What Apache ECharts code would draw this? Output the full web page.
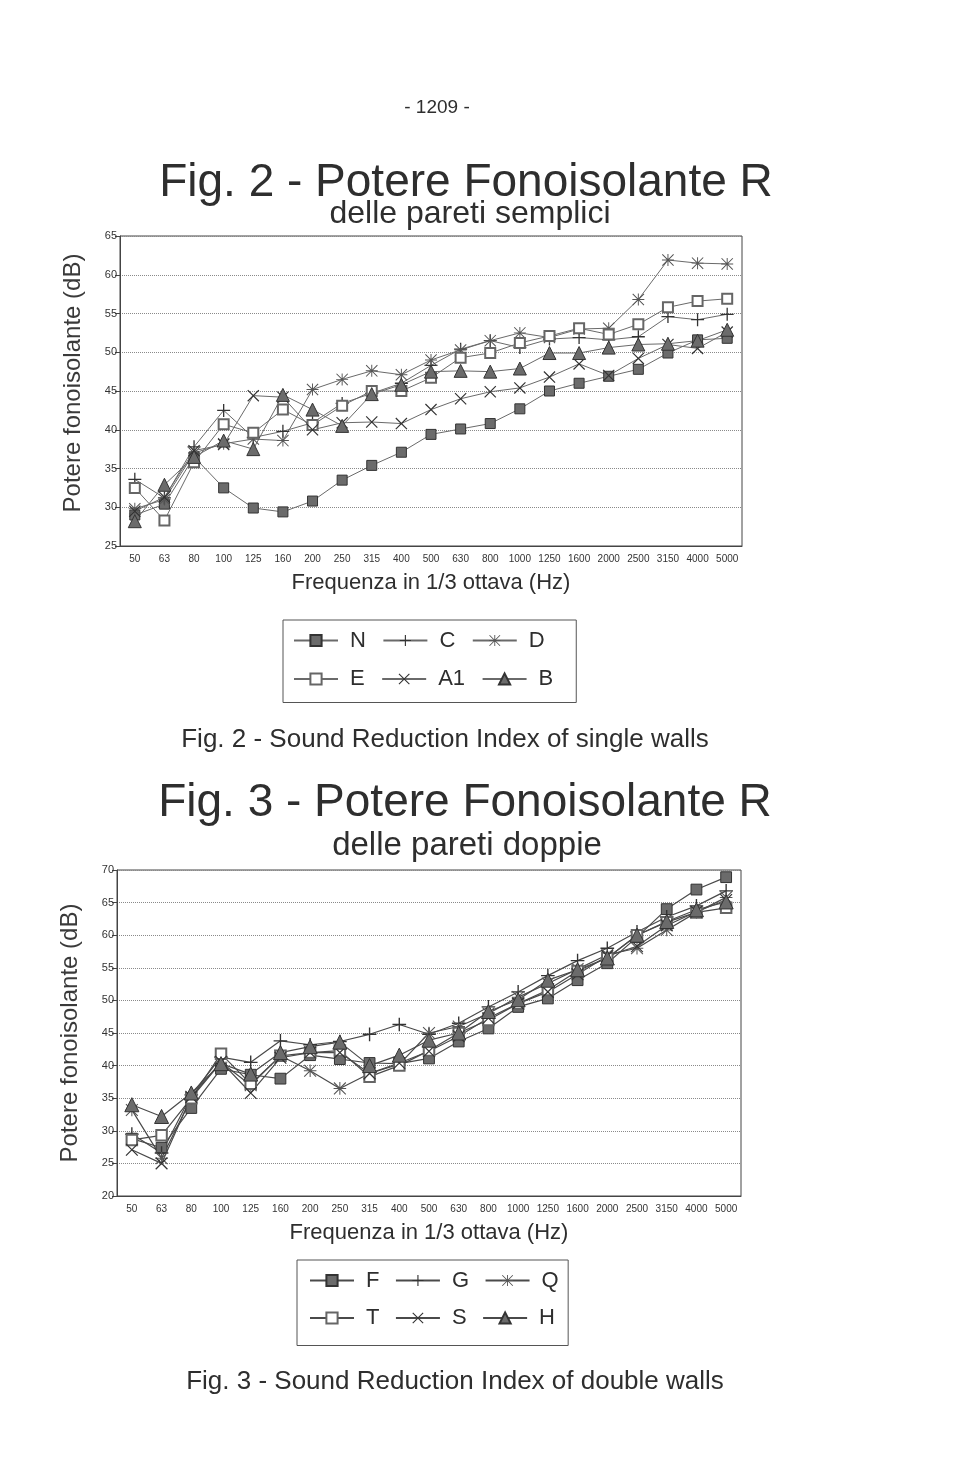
<!DOCTYPE html>
<html>
<head>
<meta charset="utf-8">
<script src="https://cdn.jsdelivr.net/npm/echarts@6/dist/echarts.min.js"></script>
<style>
html,body{margin:0;padding:0;background:#fff;}
#c{width:960px;height:1480px;}
</style>
</head>
<body>
<div id="c"></div>
<script>
// ---- data ----
const freqLabels = ['50','63','80','100','125','160','200','250','315','400','500','630','800','1000','1250','1600','2000','2500','3150','4000','5000'];

// Fig. 2 - single walls
const sN  = [29.0, 30.4, 36.5, 32.5, 29.9, 29.4, 30.8, 33.5, 35.4, 37.1, 39.4, 40.1, 40.8, 42.7, 45.0, 46.0, 46.9, 47.8, 49.9, 51.6, 51.8];
const sC  = [33.6, 31.2, 37.8, 42.5, 39.0, 39.8, 40.9, 43.4, 44.7, 46.0, 48.3, 50.4, 51.5, 50.6, 51.7, 51.9, 51.6, 52.0, 54.6, 54.2, 54.9];
const sD  = [29.8, 31.0, 37.0, 38.2, 38.8, 38.6, 45.2, 46.5, 47.6, 47.1, 49.0, 50.3, 51.5, 52.5, 51.9, 53.0, 53.1, 56.8, 61.9, 61.5, 61.4];
const sE  = [32.5, 28.3, 35.8, 40.7, 39.6, 42.6, 40.6, 43.1, 45.0, 45.0, 46.7, 49.3, 49.9, 51.2, 52.1, 53.1, 52.3, 53.6, 55.8, 56.6, 56.9];
const sA1 = [29.5, 31.3, 37.3, 38.1, 44.4, 44.2, 40.0, 40.9, 41.0, 40.8, 42.6, 44.0, 44.9, 45.4, 46.8, 48.5, 47.0, 49.2, 51.0, 50.5, 52.6];
const sB  = [28.2, 32.9, 36.5, 38.6, 37.5, 44.5, 42.6, 40.5, 44.6, 45.8, 47.5, 47.6, 47.5, 47.9, 49.9, 49.9, 50.6, 51.0, 51.1, 51.5, 52.9];

// Fig. 3 - double walls
const dF = [28.8, 27.4, 33.5, 39.5, 38.6, 38.0, 41.6, 41.0, 40.4, 40.3, 41.1, 43.7, 45.7, 49.0, 50.3, 53.1, 55.7, 59.7, 64.0, 67.0, 68.9];
const dG = [29.5, 26.6, 35.5, 41.3, 40.5, 43.8, 43.2, 43.7, 44.8, 46.3, 44.8, 46.5, 49.0, 51.3, 53.8, 56.1, 58.0, 60.5, 62.8, 64.5, 66.8];
const dQ = [33.2, 25.8, 35.0, 40.5, 37.0, 41.5, 39.2, 36.5, 38.8, 40.2, 45.0, 46.0, 48.0, 50.5, 52.6, 54.8, 57.0, 58.0, 60.8, 63.5, 65.8];
const dT = [28.6, 29.3, 35.0, 41.8, 37.2, 41.5, 42.0, 42.3, 38.3, 40.0, 42.3, 45.0, 47.0, 49.5, 51.6, 54.5, 56.5, 60.0, 62.0, 63.5, 64.2];
const dS = [27.1, 25.0, 35.2, 40.6, 35.8, 41.2, 42.0, 42.0, 38.8, 40.4, 42.2, 44.5, 47.3, 49.5, 51.3, 54.0, 56.8, 58.3, 61.5, 63.6, 65.4];
const dH = [34.0, 32.2, 35.8, 40.3, 38.7, 42.0, 42.9, 43.6, 40.0, 41.6, 43.9, 45.0, 48.3, 50.1, 53.1, 54.7, 56.5, 60.0, 62.1, 63.9, 65.1];

const yTicks1 = {min: 25, max: 65, step: 5};
const yTicks2 = {min: 20, max: 70, step: 5};

// ---- symbols ----
const PLUS = 'path://M9,0H11V9H20V11H11V20H9V11H0V9H9Z';
const CROSS = 'path://M0,1.4L1.4,0L20,18.6L18.6,20Z M18.6,0L20,1.4L1.4,20L0,18.6Z';
const STAR = 'path://M9.2,0H10.8V20H9.2Z M0,9.2H20V10.8H0Z M0,1.2L1.2,0L20,18.8L18.8,20Z M18.8,0L20,1.2L1.2,20L0,18.8Z';

const FONT = '"Liberation Sans", Arial, Helvetica, sans-serif';
const TXT = '#2e2e2e';

function mk(name, data, kind, gi, lineColor, lw, sc) {
  const s = {
    name: name, type: 'line', data: data,
    xAxisIndex: gi, yAxisIndex: gi,
    lineStyle: {color: lineColor, width: lw},
    symbolKeepAspect: true,
    animation: false
  };
  if (kind === 'fsq') { s.symbol = 'rect'; s.symbolSize = 10 * sc; s.itemStyle = {color: '#6b6b6b', borderColor: '#333', borderWidth: 1}; }
  if (kind === 'osq') { s.symbol = 'emptyRect'; s.symbolSize = 10 * sc; s.itemStyle = {color: '#666', borderWidth: 1}; }
  if (kind === 'plus') { s.symbol = PLUS; s.symbolSize = 13 * sc; s.itemStyle = {color: '#333'}; }
  if (kind === 'cross') { s.symbol = CROSS; s.symbolSize = 12 * sc; s.itemStyle = {color: '#333'}; }
  if (kind === 'star') { s.symbol = STAR; s.symbolSize = 12 * sc; s.itemStyle = {color: '#555'}; }
  if (kind === 'tri') { s.symbol = 'triangle'; s.symbolSize = 13 * sc; s.itemStyle = {color: '#6b6b6b', borderColor: '#333', borderWidth: 1}; }
  return s;
}

const L1 = '#6a6a6a', L2 = '#4a4a4a';
const series = [
  mk('N', sN, 'fsq', 0, L1, 1, 1),
  mk('C', sC, 'plus', 0, L1, 1, 1),
  mk('D', sD, 'star', 0, L1, 1, 1),
  mk('E', sE, 'osq', 0, L1, 1, 1),
  mk('A1', sA1, 'cross', 0, L1, 1, 1),
  mk('B', sB, 'tri', 0, L1, 1, 1),
  mk('F', dF, 'fsq', 1, L2, 1.2, 1.08),
  mk('G', dG, 'plus', 1, L2, 1.2, 1.05),
  mk('Q', dQ, 'star', 1, L2, 1.2, 1.05),
  mk('T', dT, 'osq', 1, L2, 1.2, 1.05),
  mk('S', dS, 'cross', 1, L2, 1.2, 1.05),
  mk('H', dH, 'tri', 1, L2, 1.2, 1.08)
];

function xAx(gi) {
  return {
    type: 'category', gridIndex: gi, data: freqLabels, boundaryGap: true,
    name: 'Frequenza in 1/3 ottava (Hz)', nameLocation: 'middle', nameGap: 26,
    nameTextStyle: {fontFamily: FONT, fontSize: 22, color: TXT},
    axisLine: {lineStyle: {color: '#444', width: 1}},
    axisTick: {alignWithLabel: true, length: 5, lineStyle: {color: '#444'}},
    axisLabel: {fontFamily: FONT, fontSize: 10, color: '#333', margin: 8, interval: 0},
    splitLine: {show: false}
  };
}
function yAx(gi, t, namePad) {
  return {
    type: 'value', gridIndex: gi, min: t.min, max: t.max, interval: t.step,
    name: 'Potere fonoisolante (dB)', nameLocation: 'middle', nameGap: 35, nameRotate: 90,
    nameTextStyle: {fontFamily: FONT, fontSize: 24, color: '#3a3a3a', padding: namePad},
    axisLine: {show: true, lineStyle: {color: '#444', width: 1}},
    axisTick: {show: true, length: 5, lineStyle: {color: '#444'}},
    axisLabel: {fontFamily: FONT, fontSize: 11, color: '#333', margin: 3},
    splitLine: {show: true, lineStyle: {color: '#8a8a8a', type: 'dotted', width: 1}}
  };
}

function legendCfg(names, left, top, width, textW, gap, pad) {
  return {
    data: names, left: left, top: top, width: width, orient: 'horizontal',
    itemWidth: 44, itemHeight: 14, itemGap: gap,
    padding: pad,
    borderColor: '#555', borderWidth: 1, borderRadius: 0,
    formatter: '{a|{name}}',
    textStyle: {
      fontFamily: FONT, fontSize: 22, color: TXT, padding: [0, 0, 0, 7],
      rich: {a: {fontFamily: FONT, fontSize: 22, color: TXT, width: textW}}
    },
    selectedMode: false
  };
}

function txt(x, y, s, size, extra) {
  return Object.assign({
    type: 'text', x: x, y: y,
    style: {text: s, fontFamily: FONT, fontSize: size, fill: TXT, textAlign: 'center', textVerticalAlign: 'middle'}
  }, extra || {});
}

const option = {
  backgroundColor: '#ffffff',
  animation: false,
  grid: [
    {left: 120, top: 236, width: 622, height: 310, show: true, borderColor: '#444', borderWidth: 1},
    {left: 117, top: 870, width: 624, height: 326, show: true, borderColor: '#444', borderWidth: 1}
  ],
  xAxis: [xAx(0), xAx(1)],
  yAxis: [yAx(0, yTicks1, [0, 0, 0, 16]), yAx(1, yTicks2, [0, 0, 0, 0])],
  legend: [
    legendCfg(['N', 'C', 'D', 'E', 'A1', 'B'], 283, 620, 300, 22.5, 16.5, [9.5, 23, 12.5, 10]),
    legendCfg(['F', 'G', 'Q', 'T', 'S', 'H'], 297, 1260, 280, 18, 15.5, [9.5, 9.5, 16.5, 12])
  ],
  graphic: [
    txt(437, 108, '- 1209 -', 19),
    txt(466, 183, 'Fig. 2 - Potere Fonoisolante R', 46),
    txt(470, 214, 'delle pareti semplici', 32),
    txt(445, 740, 'Fig. 2 - Sound Reduction Index of single walls', 26),
    txt(465, 803, 'Fig. 3 - Potere Fonoisolante R', 46),
    txt(467, 846, 'delle pareti doppie', 33),
    txt(455, 1382, 'Fig. 3 - Sound Reduction Index of double walls', 26)
  ],
  series: series
};

const chart = echarts.init(document.getElementById('c'), null, {renderer: 'canvas'});
chart.setOption(option);
</script>
</body>
</html>
